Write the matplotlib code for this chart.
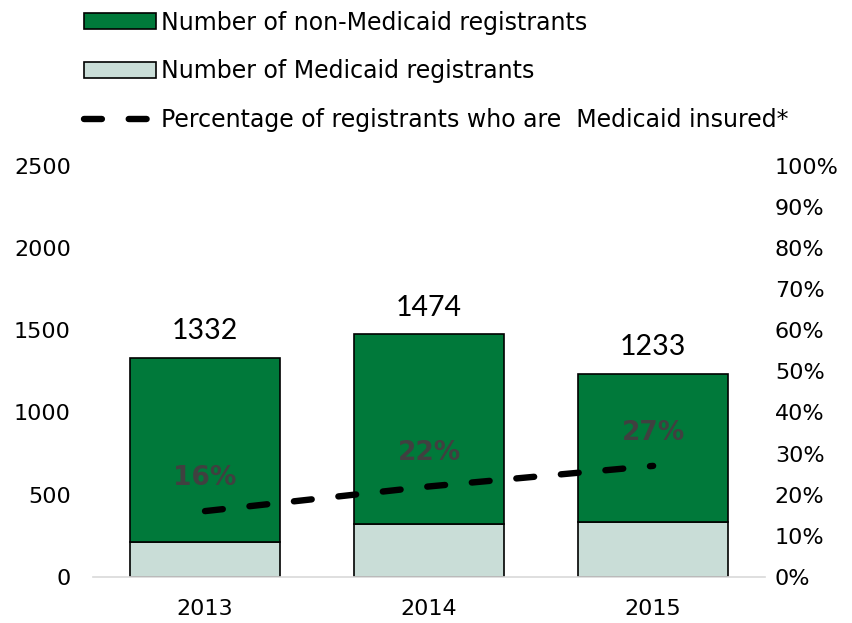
import matplotlib
matplotlib.use("Agg")
import matplotlib.pyplot as plt
import numpy as np

years = ["2013", "2014", "2015"]
totals = [1332, 1474, 1233]
medicaid = [213, 324, 333]
non_medicaid = [t - m for t, m in zip(totals, medicaid)]
pct_medicaid = [0.16, 0.22, 0.27]
pct_labels = ["16%", "22%", "27%"]

GREEN = "#00793A"
PALE = "#C9DDD7"
TICK_FONT = "DejaVu Sans"

fig = plt.figure(figsize=(8.53, 6.23), dpi=100)
ax = fig.add_axes([0.109, 0.074, 0.788, 0.660])
ax2 = ax.twinx()

x = np.arange(len(years))
w = 0.67
b1 = ax.bar(x, medicaid, w, color=PALE, edgecolor="black", linewidth=1.2,
            label="Number of Medicaid registrants", zorder=2)
b2 = ax.bar(x, non_medicaid, w, bottom=medicaid, color=GREEN, edgecolor="black",
            linewidth=1.2, label="Number of non-Medicaid registrants", zorder=2)

for xi, t in zip(x, totals):
    ax.annotate(str(t), (xi, t), xytext=(0, 10), textcoords="offset points",
                ha="center", va="bottom", fontsize=20.5, family="Lato", color="black")

ax.set_xlim(-0.5, 2.5)
ax.set_ylim(0, 2500)
ax.set_yticks(range(0, 2501, 500))
ax.set_xticks(x)
ax.set_xticklabels(years)

ln, = ax2.plot(x, pct_medicaid, color="black", linewidth=4.6,
               dashes=(2.8, 4.2), dash_capstyle="round",
               label="Percentage of registrants who are  Medicaid insured*")
for xi, p, s in zip(x, pct_medicaid, pct_labels):
    ax2.annotate(s, (xi, p), xytext=(0, 24), textcoords="offset points",
                 ha="center", va="center", fontsize=19, fontweight="bold",
                 color="#404040", family=TICK_FONT)
ax2.set_ylim(0, 1)
ax2.set_yticks(np.arange(0, 1.01, 0.1))
ax2.set_yticklabels([f"{int(round(v * 100))}%" for v in np.arange(0, 1.01, 0.1)])

for a in (ax, ax2):
    for s in a.spines.values():
        s.set_visible(False)
    a.tick_params(length=0, labelsize=16)
    for lab in a.get_yticklabels() + a.get_xticklabels():
        lab.set_family(TICK_FONT)
ax.spines["bottom"].set_visible(True)
ax.spines["bottom"].set_color("#D9D9D9")
ax.spines["bottom"].set_linewidth(1.2)
ax.tick_params(axis="y", pad=16)
ax.tick_params(axis="x", pad=16)
ax2.tick_params(axis="y", pad=7)

fig.legend([b2, b1, ln],
           [b2.get_label(), b1.get_label(), ln.get_label()],
           loc="upper left", bbox_to_anchor=(0.0738, 1.017), frameon=False,
           prop={"family": TICK_FONT, "size": 17}, handlelength=3.05,
           handleheight=0.65, handletextpad=0.21, labelspacing=1.05)

fig.savefig("out.png", dpi=100)
